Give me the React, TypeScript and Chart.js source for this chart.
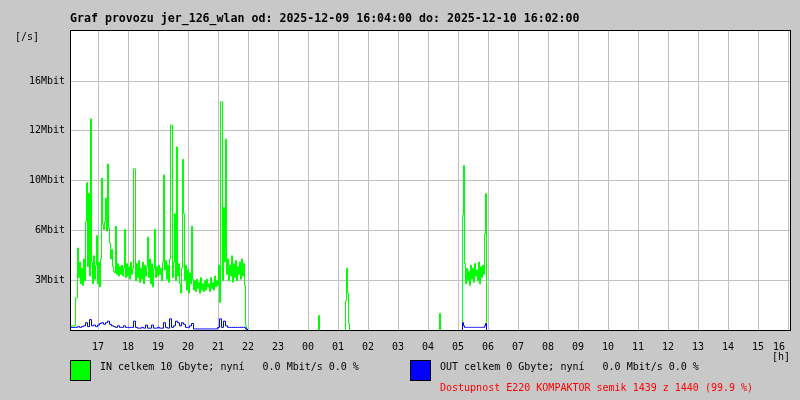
import React, { useEffect, useRef } from "react";
import { Chart, registerables } from "chart.js";

Chart.register(...registerables);

// ---- texts ----
const TITLE = "Graf provozu jer_126_wlan od: 2025-12-09 16:04:00 do: 2025-12-10 16:02:00";
const Y_UNIT = "[/s]";
const X_UNIT = "[h]";
const IN_LEGEND = "IN celkem 10 Gbyte; nyní   0.0 Mbit/s 0.0 %";
const OUT_LEGEND = "OUT celkem 0 Gbyte; nyní   0.0 Mbit/s 0.0 %";
const AVAILABILITY = "Dostupnost E220 KOMPAKTOR semik 1439 z 1440 (99.9 %)";

// ---- x axis: minutes since 2025-12-09 16:04 ----
const RANGE_MINUTES = 1440;
const HOUR_TICK_MINUTES = [56, 116, 176, 236, 296, 356, 416, 476, 536, 596, 656, 716, 776, 836, 896, 956, 1016, 1076, 1136, 1196, 1256, 1316, 1376, 1436];
const HOUR_LABELS = ["17", "18", "19", "20", "21", "22", "23", "00", "01", "02", "03", "04", "05", "06", "07", "08", "09", "10", "11", "12", "13", "14", "15", "16"];

// ---- y axis (Mbit/s) ----
const Y_MAX = 19.28;
const Y_TICK_VALUES = [3.2, 6.4, 9.6, 12.8, 16.0];
const Y_TICK_LABELS = ["3Mbit", "6Mbit", "10Mbit", "12Mbit", "16Mbit"];

// ---- evening block IN: from 16:14, one sample every 2 min (Mbit/s) ----
const EVENING_START = 10;
const IN_EVENING_STEP = 2;
const IN_EVENING = [
  0.3, 2.1, 2.1, 5.3, 3.4, 4.4, 3.0, 4.0, 2.9, 4.6,
  3.2, 7.0, 9.5, 4.1, 8.8, 3.5, 13.6, 4.4, 3.0, 4.8,
  3.3, 4.2, 6.1, 3.0, 4.4, 2.8, 4.6, 9.8, 6.8, 6.5,
  7.0, 8.5, 6.4, 10.7, 6.6, 5.6, 4.6, 5.2, 4.1, 3.8,
  3.7, 6.7, 3.6, 4.3, 3.5, 4.1, 3.6, 4.2, 3.5, 4.0,
  6.5, 3.4, 4.3, 3.5, 4.1, 3.3, 4.4, 3.6, 4.0, 10.4,
  10.4, 3.2, 4.3, 3.4, 4.5, 3.1, 4.0, 3.3, 4.4, 3.0,
  4.2, 3.5, 4.1, 6.0, 3.4, 4.6, 3.0, 4.3, 2.8, 4.0,
  6.5, 3.4, 4.1, 3.5, 4.2, 3.6, 4.0, 3.2, 4.4, 10.0,
  3.9, 4.5, 3.3, 4.2, 3.1, 4.6, 13.2, 13.2, 3.4, 4.4,
  7.5, 3.2, 11.8, 3.5, 4.3, 3.0, 2.4, 4.0, 11.0, 7.5,
  3.2, 4.2, 2.6, 3.9, 2.4, 3.7, 3.0, 6.7, 3.3, 2.6,
  3.2, 2.5, 3.3, 2.7, 3.1, 2.4, 3.4, 2.6, 3.0, 2.5,
  3.2, 2.6, 3.3, 2.8, 3.0, 2.5, 3.4, 2.7, 3.1, 2.6,
  3.5, 2.8, 3.2, 2.9, 4.2, 1.8, 14.7, 14.7, 3.2, 7.9,
  4.4, 12.3, 3.6, 4.6, 3.2, 4.2, 3.5, 4.8, 3.1, 4.3,
  3.4, 4.5, 3.2, 4.1, 3.6, 4.4, 3.3, 4.6, 3.5, 4.3,
  2.9, 0.3, 0, 0,
];

// ---- evening block OUT: from 16:14, one sample every 4 min (Mbit/s) ----
const OUT_EVENING_STEP = 4;
const OUT_EVENING = [
  0.2, 0.2, 0.25, 0.2, 0.25, 0.3, 0.5, 0.25, 0.7, 0.3,
  0.35, 0.25, 0.35, 0.45, 0.5, 0.4, 0.5, 0.6, 0.4, 0.3,
  0.25, 0.2, 0.3, 0.2, 0.2, 0.3, 0.2, 0.2, 0.2, 0.2,
  0.6, 0.2, 0.15, 0.15, 0.2, 0.15, 0.35, 0.15, 0.15, 0.35,
  0.15, 0.15, 0.2, 0.15, 0.15, 0.5, 0.2, 0.15, 0.75, 0.2,
  0.3, 0.6, 0.5, 0.3, 0.5, 0.4, 0.2, 0.2, 0.3, 0.45,
  0.1, 0.1, 0.1, 0.1, 0.1, 0.1, 0.1, 0.1, 0.1, 0.1,
  0.1, 0.1, 0.2, 0.75, 0.2, 0.6, 0.3, 0.2, 0.2, 0.2,
  0.2, 0.2, 0.2, 0.2, 0.2, 0.2, 0.1, 0,
];

// ---- night bursts (IN) ----
const NIGHT_MINUTES = [496, 498, 502, 550, 552, 554, 556, 558, 560, 738, 740, 744];
const IN_NIGHT = [0, 0.96, 0, 0, 1.9, 4.0, 2.4, 0.45, 0, 0, 1.1, 0];

// ---- morning block: from 05:08, one sample every 2 min ----
const MORNING_START = 784;
const MORNING_STEP = 2;
const IN_MORNING = [
  0, 7.4, 10.6, 4.3, 3.0, 4.0, 3.2, 3.8, 2.9, 4.2,
  3.3, 4.0, 3.1, 4.3, 3.5, 3.9, 3.2, 4.4, 3.0, 4.1,
  3.4, 4.2, 3.6, 6.2, 8.8, 0,
];
const OUT_MORNING = [
  0, 0.5, 0.3, 0.2, 0.2, 0.2, 0.2, 0.2, 0.2, 0.2,
  0.2, 0.2, 0.2, 0.2, 0.2, 0.2, 0.2, 0.2, 0.2, 0.2,
  0.2, 0.2, 0.2, 0.3, 0.45, 0,
];

type P = { x: number; y: number };

function block(start: number, step: number, values: number[]): P[] {
  return values.map((v, i) => ({ x: start + i * step, y: v }));
}

function explicit(xs: number[], ys: number[]): P[] {
  return xs.map((x, i) => ({ x, y: ys[i] }));
}

const BG = "#c8c8c8";
const GRID = "#c0c0c0";
const MONO = '"DejaVu Sans Mono", "Liberation Mono", monospace';

const framePlugin = {
  id: "frame",
  beforeDraw(chart: any) {
    const { ctx, chartArea: a } = chart;
    ctx.save();
    ctx.fillStyle = BG;
    ctx.fillRect(0, 0, chart.width, chart.height);
    ctx.fillStyle = "#ffffff";
    ctx.fillRect(a.left, a.top, a.right - a.left, a.bottom - a.top);
    ctx.restore();
  },
  beforeDatasetsDraw(chart: any) {
    chart.ctx.save();
    chart.ctx.translate(0.5, 0.5);
  },
  afterDatasetsDraw(chart: any) {
    chart.ctx.restore();
  },
  afterDraw(chart: any) {
    const { ctx, chartArea: a } = chart;
    ctx.save();
    ctx.strokeStyle = "#000000";
    ctx.lineWidth = 1;
    ctx.strokeRect(a.left + 0.5, a.top + 0.5, a.right - a.left, a.bottom - a.top);
    ctx.restore();
  },
};

export default function App() {
  const ref = useRef<HTMLCanvasElement | null>(null);

  useEffect(() => {
    if (!ref.current) return;
    const inData: P[] = [
      { x: 0, y: 0 },
      ...block(EVENING_START, IN_EVENING_STEP, IN_EVENING),
      ...explicit(NIGHT_MINUTES, IN_NIGHT),
      ...block(MORNING_START, MORNING_STEP, IN_MORNING),
      { x: RANGE_MINUTES, y: 0 },
    ];
    const outData: P[] = [
      { x: 0, y: 0 },
      ...block(EVENING_START, OUT_EVENING_STEP, OUT_EVENING),
      ...block(MORNING_START, MORNING_STEP, OUT_MORNING),
      { x: RANGE_MINUTES, y: 0 },
    ];
    const chart = new Chart(ref.current, {
      type: "line",
      data: {
        datasets: [
          {
            label: "OUT",
            data: outData,
            borderColor: "#0000ff",
            borderWidth: 1,
            pointRadius: 0,
            stepped: "after",
            fill: false,
          },
          {
            label: "IN",
            data: inData,
            borderColor: "#00ff00",
            borderWidth: 1,
            pointRadius: 0,
            stepped: "after",
            fill: false,
          },
        ],
      },
      options: {
        animation: false,
        responsive: false,
        events: [],
        layout: { padding: { left: 0, right: 10, top: 30, bottom: 0 } },
        plugins: { legend: { display: false }, tooltip: { enabled: false }, title: { display: false } },
        scales: {
          x: {
            type: "linear",
            min: 0,
            max: RANGE_MINUTES,
            afterBuildTicks: (scale: any) => {
              scale.ticks = HOUR_TICK_MINUTES.map((v) => ({ value: v }));
            },
            afterFit: (scale: any) => {
              scale.height = 70;
              scale.paddingLeft = 0;
              scale.paddingRight = 0;
            },
            grid: { color: GRID, drawTicks: false, lineWidth: 1 },
            border: { display: false },
            ticks: {
              autoSkip: false,
              maxRotation: 0,
              padding: 11,
              color: "#000000",
              font: { family: MONO, size: 10 },
              callback: (_v: any, i: number) =>
                i === HOUR_LABELS.length - 1 ? HOUR_LABELS[i] + "   " : HOUR_LABELS[i],
            },
          },
          y: {
            type: "linear",
            min: 0,
            max: Y_MAX,
            afterBuildTicks: (scale: any) => {
              scale.ticks = Y_TICK_VALUES.map((v) => ({ value: v }));
            },
            afterFit: (scale: any) => {
              scale.width = 70;
              scale.paddingTop = 0;
              scale.paddingBottom = 0;
            },
            grid: { color: GRID, drawTicks: false, lineWidth: 1 },
            border: { display: false },
            ticks: {
              padding: 5,
              color: "#000000",
              font: { family: MONO, size: 10 },
              callback: (_v: any, i: number) => Y_TICK_LABELS[i],
            },
          },
        },
      },
      plugins: [framePlugin],
    } as any);
    return () => chart.destroy();
  }, []);

  const text = (left: number, top: number, s: string, color = "#000000") => (
    <div
      style={{
        position: "absolute",
        left,
        top,
        whiteSpace: "pre",
        fontFamily: MONO,
        fontSize: 10,
        lineHeight: "12px",
        color,
      }}
    >
      {s}
    </div>
  );

  const box = (left: number, color: string) => (
    <div
      style={{
        position: "absolute",
        left,
        top: 360,
        width: 21,
        height: 21,
        boxSizing: "border-box",
        border: "1px solid #000000",
        background: color,
      }}
    />
  );

  return (
    <div style={{ position: "relative", width: 800, height: 400, background: BG, overflow: "hidden" }}>
      <style>{"body{margin:0;}"}</style>
      <canvas ref={ref} width={800} height={400} style={{ display: "block" }} />
      <div
        style={{
          position: "absolute",
          left: 70,
          top: 11,
          whiteSpace: "pre",
          fontFamily: MONO,
          fontWeight: "bold",
          fontSize: 11.6,
          lineHeight: "14px",
          color: "#000000",
        }}
      >
        {TITLE}
      </div>
      {text(15, 31, Y_UNIT)}
      {text(772, 351, X_UNIT)}
      {box(70, "#00ff00")}
      {text(100, 361, IN_LEGEND)}
      {box(410, "#0000ff")}
      {text(440, 361, OUT_LEGEND)}
      {text(440, 382, AVAILABILITY, "#ff0000")}
    </div>
  );
}
